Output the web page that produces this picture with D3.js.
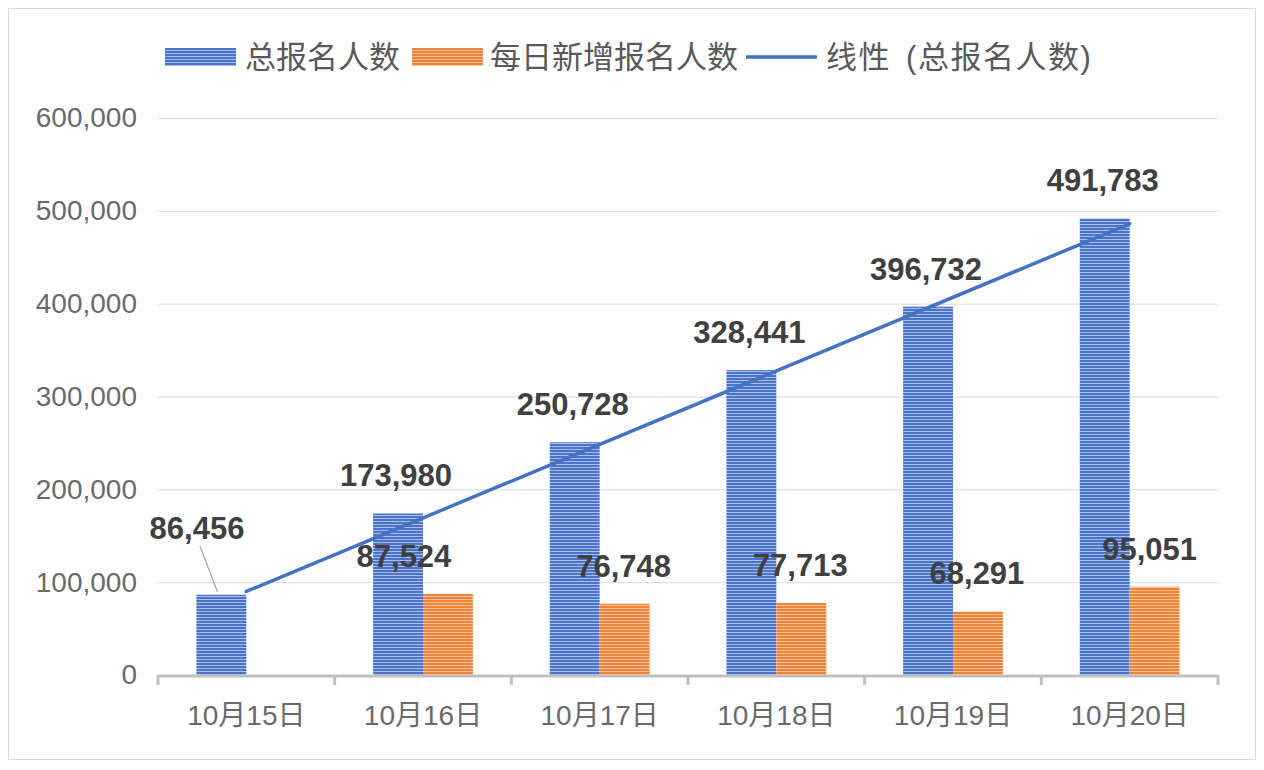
<!DOCTYPE html>
<html><head><meta charset="utf-8">
<script src="https://cdn.jsdelivr.net/npm/d3@7"></script>
<style>
html,body{margin:0;padding:0;background:#fff;}
svg text{font-family:"Liberation Sans",Arial,"Noto Sans CJK SC",sans-serif;}
</style></head>
<body>
<svg id="chart" width="1264" height="770"></svg>
<script>
const categories = ["10月15日","10月16日","10月17日","10月18日","10月19日","10月20日"];
const totalValues = [86456,173980,250728,328441,396732,491783];
const dailyValues = [null,87524,76748,77713,68291,95051];
const yTicks = [0,100000,200000,300000,400000,500000,600000];
const seriesNames = ["总报名人数","每日新增报名人数","线性 (总报名人数)"];

const svg = d3.select("#chart");
const defs = svg.append("defs");
function stripe(id, base, light){
  const p = defs.append("pattern").attr("id",id).attr("patternUnits","userSpaceOnUse")
    .attr("width",6).attr("height",3);
  p.append("rect").attr("width",6).attr("height",3).attr("fill",base);
  p.append("rect").attr("y",2).attr("width",6).attr("height",1).attr("fill",light);
}
stripe("pBlue","#4a73c9","#a9bdea");
stripe("pOrange","#ee8237","#f8c29c");

// frame
svg.append("rect").attr("x",8.5).attr("y",8.5).attr("width",1247).attr("height",751)
  .attr("fill","#fff").attr("stroke","#d9d9d9");

const pLeft=158, pRight=1218, pTop=118, pBottom=675;
const x = d3.scaleBand().domain(categories).range([pLeft,pRight]).paddingInner(0).paddingOuter(0);
const y = d3.scaleLinear().domain([0,600000]).range([pBottom,pTop]);
const inner = d3.scaleBand().domain(["total","daily"]).range([0,x.bandwidth()]).paddingInner(0).paddingOuter(0.77);

// gridlines
svg.append("g").selectAll("line").data(yTicks.filter(d=>d>0)).join("line")
  .attr("x1",pLeft).attr("x2",pRight).attr("y1",d=>y(d)+0.5).attr("y2",d=>y(d)+0.5)
  .attr("stroke","#d9d9d9").attr("stroke-width",1);

// y axis labels
const yAxis = d3.axisLeft(y).tickValues(yTicks).tickFormat(d3.format(",")).tickSize(0).tickPadding(21);
const yg = svg.append("g").attr("transform",`translate(${pLeft},0)`).call(yAxis);
yg.select(".domain").remove();
yg.selectAll("text").attr("fill","#6a6a6a").style("font-size","28px");

// bars
const g = svg.append("g");
g.selectAll("rect.total").data(totalValues).join("rect").attr("class","total")
  .attr("x",(d,i)=>x(categories[i])+inner("total")).attr("width",inner.bandwidth())
  .attr("y",d=>y(d)).attr("height",d=>pBottom-y(d)).attr("fill","url(#pBlue)");
const dailyData = dailyValues.map((v,i)=>({v,i})).filter(d=>d.v!=null);
g.selectAll("rect.daily").data(dailyData).join("rect").attr("class","daily")
  .attr("x",d=>x(categories[d.i])+inner("daily")).attr("width",inner.bandwidth())
  .attr("y",d=>y(d.v)).attr("height",d=>pBottom-y(d.v)).attr("fill","url(#pOrange)");

// x axis
const xAxis = d3.axisBottom(x).tickSize(0).tickPadding(30);
const xg = svg.append("g").attr("transform",`translate(0,${pBottom})`).call(xAxis);
xg.select(".domain").remove();
xg.selectAll("text").attr("fill","#6a6a6a").style("font-size","28px");
svg.append("line").attr("x1",pLeft).attr("x2",pRight).attr("y1",pBottom+1).attr("y2",pBottom+1)
  .attr("stroke","#bfbfbf").attr("stroke-width",3);
const bounds = categories.map(c=>x(c)).concat([pRight]);
svg.append("g").selectAll("line").data(bounds).join("line")
  .attr("x1",d=>d).attr("x2",d=>d).attr("y1",pBottom).attr("y2",pBottom+10)
  .attr("stroke","#bfbfbf").attr("stroke-width",3);

// linear trend of total
const n = totalValues.length;
const xs = d3.range(1,n+1);
const mx = d3.mean(xs), my = d3.mean(totalValues);
const slope = d3.sum(xs.map((xi,i)=>(xi-mx)*(totalValues[i]-my)))/d3.sum(xs.map(xi=>(xi-mx)**2));
const icpt = my - slope*mx;
const cx = i => x(categories[i]) + x.bandwidth()/2;
svg.append("line").attr("x1",cx(0)).attr("y1",y(icpt+slope*1))
  .attr("x2",cx(n-1)).attr("y2",y(icpt+slope*n))
  .attr("stroke","#4472c4").attr("stroke-width",3.5).attr("stroke-linecap","round");

// labels
const fmt = d3.format(",");
const lab = svg.append("g").attr("fill","#404040").style("font-size","31px").style("font-weight","bold").attr("text-anchor","middle");
totalValues.forEach((v,i)=>{
  let tx = x(categories[i])+inner("total")+inner.bandwidth()/2 - 2;
  let ty = y(v) - 38;
  if(i===0){ tx = 197; ty = 528; }
  lab.append("text").attr("x",tx).attr("y",ty).attr("dy","0.35em").text(fmt(v));
});
// leader line for first label
svg.append("line").attr("x1",200).attr("y1",546)
  .attr("x2",x(categories[0])+inner("total")+inner.bandwidth()/2-4).attr("y2",y(totalValues[0])-3)
  .attr("stroke","#a6a6a6").attr("stroke-width",1.2);
dailyData.forEach(d=>{
  let tx = x(categories[d.i])+inner("daily")+inner.bandwidth()/2 - 1;
  if(d.i===1) tx -= 43;
  if(d.i===5) tx -= 4;
  lab.append("text").attr("x",tx).attr("y",y(d.v)-38).attr("dy","0.35em").text(fmt(d.v));
});

// legend
const leg = svg.append("g").style("font-size","31px").attr("fill","#595959");
leg.append("rect").attr("x",165).attr("y",48).attr("width",71).attr("height",18).attr("fill","url(#pBlue)");
leg.append("text").attr("x",245).attr("y",57).attr("dy","0.35em").text(seriesNames[0]);
leg.append("rect").attr("x",412).attr("y",48).attr("width",71).attr("height",18).attr("fill","url(#pOrange)");
leg.append("text").attr("x",490).attr("y",57).attr("dy","0.35em").text(seriesNames[1]);
leg.append("line").attr("x1",746).attr("x2",817).attr("y1",57).attr("y2",57).attr("stroke","#4472c4").attr("stroke-width",3.5);
leg.append("text").attr("x",826).attr("y",57).attr("dy","0.35em")
  .style("letter-spacing","1.5px").style("word-spacing","5px").text(seriesNames[2]);
</script>
</body></html>
